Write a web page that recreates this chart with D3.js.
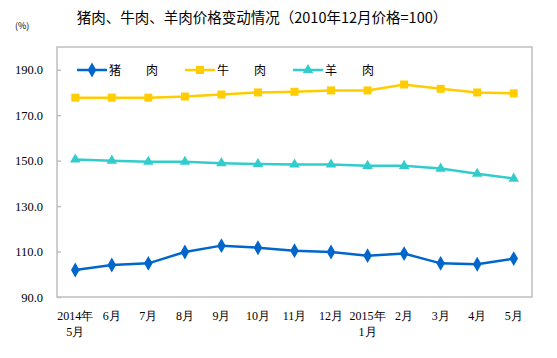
<!DOCTYPE html>
<html>
<head>
<meta charset="utf-8">
<script src="https://cdn.jsdelivr.net/npm/d3@7"></script>
<style>
  body { margin: 0; background: #fff; }
  svg { display: block; }
</style>
</head>
<body>
<script>
// data
let months = [["2014年", "5月"], ["6月"], ["7月"], ["8月"], ["9月"], ["10月"], ["11月"], ["12月"],
              ["2015年", "1月"], ["2月"], ["3月"], ["4月"], ["5月"]]
let pork = [101.9, 104.1, 104.8, 109.8, 112.6, 111.7, 110.4, 109.8, 108.2, 109.1, 104.8, 104.4, 106.9]
let beef = [177.7, 177.7, 177.7, 178.2, 179.1, 180.0, 180.3, 180.9, 180.9, 183.5, 181.6, 180.0, 179.6]
let lamb = [150.5, 150.0, 149.5, 149.5, 148.9, 148.5, 148.3, 148.3, 147.7, 147.7, 146.5, 144.2, 142.1]
let yTicks = [90, 110, 130, 150, 170, 190]

let series = [
  {name: "猪", values: pork, color: "#0066CC", shape: d3.symbolDiamond, size: 64, lx: 77},
  {name: "牛", values: beef, color: "#FFCC00", shape: d3.symbolSquare, size: 64, lx: 185},
  {name: "羊", values: lamb, color: "#33CCCC", shape: d3.symbolTriangle, size: 48, lx: 293}
]

let W = 557, H = 358
let mLeft = 57, mRight = 532, mTop = 47, mBottom = 297

let svg = d3.select("body").append("svg")
    .attr("width", W)
    .attr("height", H)

let x = d3.scalePoint()
    .domain(d3.range(months.length))
    .range([mLeft, mRight])
    .padding(0.5)

let y = d3.scaleLinear()
    .domain([90, 200])
    .range([mBottom, mTop])

// title
svg.append("text")
    .attr("x", 262)
    .attr("y", 23)
    .attr("text-anchor", "middle")
    .attr("font-family", "'Noto Sans CJK SC', sans-serif")
    .attr("font-size", 14.5)
    .attr("fill", "#000")
    .text("猪肉、牛肉、羊肉价格变动情况（2010年12月价格=100）")

svg.append("text")
    .attr("x", 15)
    .attr("y", 29)
    .attr("font-family", "'Noto Sans CJK SC', sans-serif")
    .attr("font-size", 9)
    .text("(%)")

// plot frame
svg.append("rect")
    .attr("x", mLeft)
    .attr("y", mTop)
    .attr("width", mRight - mLeft)
    .attr("height", mBottom - mTop)
    .attr("fill", "none")
    .attr("stroke", "#BFBFBF")
    .attr("stroke-width", 1.5)

// y axis
let yAxis = svg.append("g")
    .attr("transform", `translate(${mLeft},0)`)
    .call(d3.axisLeft(y).tickValues(yTicks).tickSize(-4).tickPadding(14).tickFormat(d3.format(".1f")))
yAxis.select(".domain").remove()
yAxis.selectAll("line").attr("stroke", "#BFBFBF").attr("stroke-width", 1.5)
yAxis.selectAll("text")
    .attr("font-family", "'Liberation Serif', 'Times New Roman', serif")
    .attr("font-size", 12.5)
    .attr("fill", "#000")

// x labels
let xl = svg.append("g")
xl.selectAll("text")
  .data(months)
  .join("text")
    .attr("x", (d, i) => x(i))
    .attr("y", 320)
    .attr("text-anchor", "middle")
    .attr("font-family", "'Liberation Serif', 'Times New Roman', serif")
    .attr("font-size", 12)
    .each(function(d) {
        d3.select(this).selectAll("tspan")
          .data(d)
          .join("tspan")
            .attr("x", d3.select(this).attr("x"))
            .attr("dy", (t, j) => j == 0 ? 0 : 16)
            .text(t => t)
    })

// lines and markers
let line = d3.line()
    .x((d, i) => x(i))
    .y(d => y(d))

for (let s of series) {
    let g = svg.append("g")
    g.append("path")
        .datum(s.values)
        .attr("d", line)
        .attr("fill", "none")
        .attr("stroke", s.color)
        .attr("stroke-width", 2.5)
    g.selectAll("path.mk")
      .data(s.values)
      .join("path")
        .attr("class", "mk")
        .attr("d", d3.symbol().type(s.shape).size(s.size))
        .attr("transform", (d, i) => `translate(${x(i)},${y(d)})`)
        .attr("fill", s.color)

    // legend
    let lg = svg.append("g")
    lg.append("line")
        .attr("x1", s.lx).attr("x2", s.lx + 30)
        .attr("y1", 70).attr("y2", 70)
        .attr("stroke", s.color)
        .attr("stroke-width", 2.5)
    lg.append("path")
        .attr("d", d3.symbol().type(s.shape).size(s.size))
        .attr("transform", `translate(${s.lx + 15},70)`)
        .attr("fill", s.color)
    lg.append("text")
        .attr("x", s.lx + 32)
        .attr("y", 74.5)
        .attr("font-family", "'Noto Sans CJK SC', sans-serif")
        .attr("font-size", 12)
        .text(s.name)
    lg.append("text")
        .attr("x", s.lx + 69)
        .attr("y", 74.5)
        .attr("font-family", "'Noto Sans CJK SC', sans-serif")
        .attr("font-size", 12)
        .text("肉")
}
</script>
</body>
</html>
